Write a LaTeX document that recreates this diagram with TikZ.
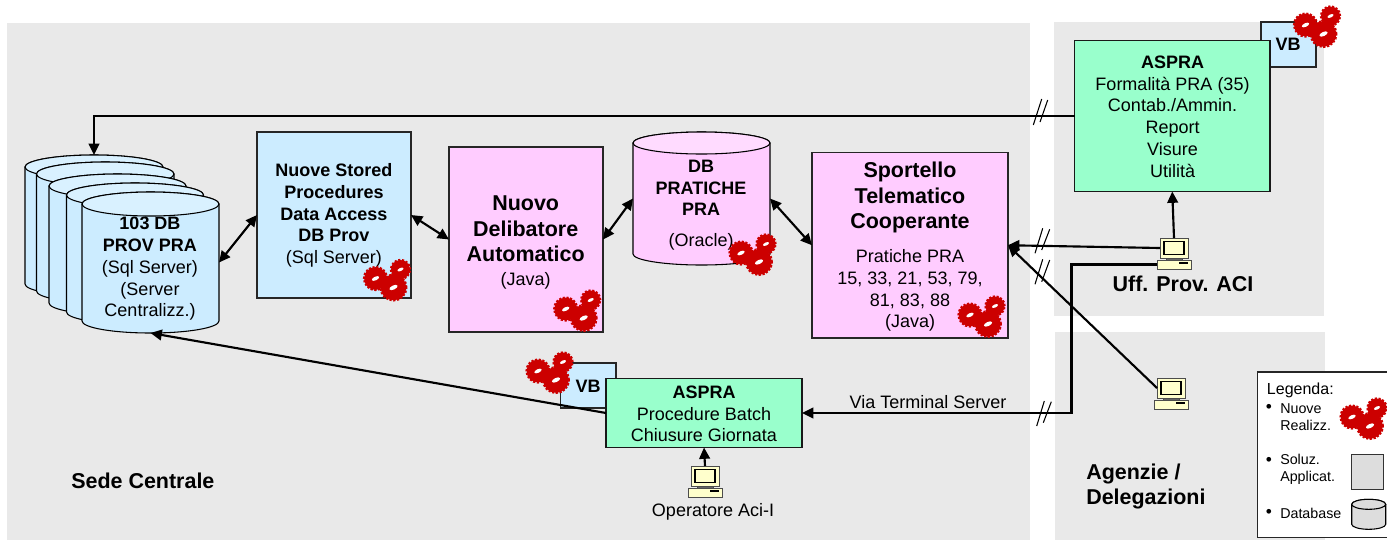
\documentclass[tikz,border=0pt]{standalone}
\usepackage{fontspec}
\setmainfont{Liberation Sans}
\usetikzlibrary{arrows.meta,calc}
\definecolor{panelgray}{HTML}{E9E9E9}
\definecolor{sqlblue}{HTML}{CCECFF}
\definecolor{sqltop}{HTML}{D9F1FF}
\definecolor{apppink}{HTML}{FFCCFF}
\definecolor{pinktop}{HTML}{FFDBFF}
\definecolor{aspragreen}{HTML}{99FFCC}
\definecolor{pcyellow}{HTML}{FFFFCC}
\definecolor{gearred}{HTML}{CC0000}
\definecolor{legendgray}{HTML}{DDDDDD}
\newcommand{\fsA}{\fontsize{13.5}{16.3}\selectfont}
\newcommand{\fsB}{\fontsize{16.1}{19.2}\selectfont\bfseries}
\newcommand{\fsC}{\fontsize{10.7}{13}\selectfont}
% box by its px corners
\newcommand{\pxbox}[6]{%
  \pgfmathsetmacro\myw{((#4)-(#2))*0.75}\pgfmathsetmacro\myh{((#5)-(#3))*0.75}%
  \node[#6,minimum width=\myw pt,minimum height=\myh pt] (#1) at ({((#2)+(#4))/2},{((#3)+(#5))/2}) {};}
% cylinder: name, x1, ytop, x2, ybottom, ry, body, top
\newcommand{\pxcyl}[8]{%
  \pgfmathsetmacro\myrx{(#4-#2)*0.375}\pgfmathsetmacro\myry{#6*0.75}%
  \pgfmathsetmacro\myw{(#4-#2)*0.75}\pgfmathsetmacro\myh{(#5-#3)*0.75}%
  \draw[cylline,fill=#7] (#2,#3+#6) -- (#2,#5-#6) arc[start angle=180,end angle=360,x radius=\myrx pt,y radius=\myry pt] -- (#4,#3+#6) arc[start angle=0,end angle=180,x radius=\myrx pt,y radius=\myry pt] -- cycle;
  \draw[cylline,fill=#8] ({(#2+#4)/2},#3+#6) ellipse[x radius=\myrx pt,y radius=\myry pt];
  \node[inner sep=0pt,outer sep=0pt,minimum width=\myw pt,minimum height=\myh pt] (#1) at ({(#2+#4)/2},{(#3+#5)/2}) {};}
% computer: name, monitor x1, monitor y1
\newcommand{\pxpc}[3]{%
  \draw[pcfine,fill=black!60] (#2+6,#3+19) rectangle (#2+22,#3+23);
  \pxbox{#1m}{#2}{#3}{#2+28}{#3+20}{pcpart}
  \draw[line width=1pt,fill=pcyellow] (#2+4,#3+3.5) rectangle (#2+24,#3+16.5);
  \pxbox{#1b}{#2-3}{#3+22}{#2+31}{#3+31}{pcpart}
  \fill[black] (#2+19,#3+24) rectangle (#2+28,#3+26);}
\tikzset{
  x=0.75pt,y=-0.75pt,
  panel/.style={fill=panelgray,draw=none,inner sep=0pt,outer sep=0pt},
  sqlbox/.style={fill=sqlblue,draw=black!85,line width=0.8pt,inner sep=0pt,outer sep=0pt},
  pinkbox/.style={fill=apppink,draw=black!85,line width=0.8pt,inner sep=0pt,outer sep=0pt},
  greenbox/.style={fill=aspragreen,draw=black!90,line width=0.8pt,inner sep=0pt,outer sep=0pt},
  pcpart/.style={fill=pcyellow,draw=black!70,line width=0.7pt,inner sep=0pt,outer sep=0pt},
  pcfine/.style={draw=black!70,line width=0.5pt},
  cylline/.style={draw=black,line width=0.8pt},
  label/.style={align=center,inner sep=0pt,font=\fsA},
  head/.style={align=center,inner sep=0pt,font=\fsB},
  legtext/.style={align=left,anchor=west,inner sep=0pt,font=\fsC},
  conn/.style={draw=black,line width=1.6pt},
  one/.style={conn,-{Triangle[length=8.5pt,width=8pt]}},
  both/.style={conn,{Triangle[length=8.5pt,width=8pt]}-{Triangle[length=8.5pt,width=8pt]}},
  slash/.style={draw=black,line width=0.8pt},
  gears/.pic={
    \foreach \gx/\gy/\gr in {-11/-1/11.4, 14/-10/9.5, 7/8/12.8}{
      \fill[gearred] (\gx,\gy) circle[radius=\gr*0.75pt];
      \draw[gearred,line width=1.8pt,dash pattern=on 1.6pt off 1.2pt] (\gx,\gy) circle[radius=\gr*0.75pt];
      \fill[white,rotate around={25:(\gx,\gy)}] (\gx,\gy) ellipse[x radius=\gr*0.26pt,y radius=\gr*0.12pt];
    }
  }
}
\begin{document}
\begin{tikzpicture}
\useasboundingbox (0,0) rectangle (1387,540);
\fill[white] (0,0) rectangle (1387,540);
% panels
\pxbox{pmain}{7}{23}{1030}{540}{panel}
\pxbox{pupper}{1054}{22}{1324}{316}{panel}
\pxbox{plower}{1055}{332}{1325}{540}{panel}
% stacked databases
\pxcyl{cyla}{25}{155}{163}{296}{12}{sqlblue}{sqltop}
\pxcyl{cylb}{36.5}{162}{174}{303}{12}{sqlblue}{sqltop}
\pxcyl{cylc}{49}{174}{186}{315}{12}{sqlblue}{sqltop}
\pxcyl{cyld}{66.5}{183}{203.5}{324}{12}{sqlblue}{sqltop}
\pxcyl{cyle}{82}{192}{219}{333}{12}{sqlblue}{sqltop}
\node[label] (cylt) at (150,269) {\textbf{103 DB}\\\textbf{PROV PRA}\\(Sql Server)\\(Server\\Centralizz.)};
% stored procedures
\pxbox{stored}{257}{132}{411}{298}{sqlbox}
\node[label] (storedt) at (334,215.5) {\textbf{Nuove Stored}\\\textbf{Procedures}\\\textbf{Data Access}\\\textbf{DB Prov}\\(Sql Server)};
% delibatore
\pxbox{delib}{449}{147}{603}{332}{pinkbox}
\node[head] (delibt) at (525.7,229) {Nuovo\\Delibatore\\Automatico};
\node[label] (delibj) at (525.7,281) {(Java)};
% db pratiche
\pxcyl{pratiche}{633}{132}{770}{265}{11}{apppink}{pinktop}
\node[label,font=\fsA\bfseries] (pratichet) at (701,188) {DB\\PRATICHE\\PRA};
\node[label] (praticheo) at (701,242) {(Oracle)};
% sportello
\pxbox{sport}{812}{152.5}{1008}{338}{pinkbox}
\node[head] (sportt) at (910,197.5) {Sportello\\Telematico\\Cooperante};
\node[label] (sportb) at (910,290.5) {Pratiche PRA\\15, 33, 21, 53, 79,\\81, 83, 88\\(Java)};
% aspra top
\pxbox{vbtop}{1261}{22}{1316}{67}{sqlbox}
\node[label,font=\fsA\bfseries] (vbtopt) at (1288,44.5) {VB};
\pxbox{aspratop}{1074.5}{40.5}{1270}{191.5}{greenbox}
\node[label] (aspratopt) at (1172.5,116.5) {\textbf{ASPRA}\\Formalità PRA (35)\\Contab./Ammin.\\Report\\Visure\\Utilità};
% aspra bottom
\pxbox{vbbot}{560.5}{363}{616}{408}{sqlbox}
\node[label,font=\fsA\bfseries] (vbbott) at (588,386) {VB};
\pxbox{asprabot}{606}{378.5}{802}{447.5}{greenbox}
\node[label] (asprabott) at (704,414) {\textbf{ASPRA}\\Procedure Batch\\Chiusure Giornata};
% computers
\pxpc{pcu}{1160}{238}
\pxpc{pca}{1157}{378}
\pxpc{pco}{691}{466}
% connectors
\draw[one] (aspratop.west) -| (cyla.north);
\draw[both] (cyle.east) -- (stored.west);
\draw[both] (stored.east) -- (delib.west);
\draw[both] (delib.east) -- (pratiche.west);
\draw[both] (pratiche.east) -- (sport.west);
\draw[one] (pcum.west) -- (sport.east);
\draw[one] (pcam.west) -- (sport.east);
\draw[one] (pcum.north) -- (aspratop.south);
\draw[one] (pcub.west) -| (1071.5,413) -- (asprabot.east);
\draw[one] (asprabot.west) -- (cyle.south);
\draw[one] (pcom.north) -- (asprabot.south);
% break marks
\draw[slash] (1033.3,125) -- (1041.7,99) (1040,122) -- (1047.7,100);
\draw[slash] (1035,253.3) -- (1042.7,228.3) (1041.7,250) -- (1049.7,229.3);
\draw[slash] (1035,284.3) -- (1042.7,259.3) (1041.7,281.7) -- (1049.7,260);
\draw[slash] (1036.7,426) -- (1044.3,401) (1043.3,422.7) -- (1051.3,401.7);
% gears
\pic at (386.5,279.5) {gears};
\pic at (576.7,310) {gears};
\pic at (752,254) {gears};
\pic at (981,316) {gears};
\pic at (1316.5,26) {gears};
\pic at (549,372) {gears};
% free labels
\node[label] (via) at (928,402) {Via Terminal Server};
\node[label] (oper) at (713,512) {Operatore Aci-I};
\node[head] (uff) at (1183,284) {Uff. Prov. ACI};
\node[head,anchor=west] (sede) at (71,481) {Sede Centrale};
\node[head,align=left,anchor=west] (agenz) at (1086,486.5) {Agenzie /\\Delegazioni};
% legend
\fill[white] (1257.5,372) rectangle (1387,537.5);
\draw[draw=black!85,line width=0.9pt] (1387,372) coordinate (legtr) -- (1257.5,372) -- (1257.5,537.5) -- (1387,537.5);
\node[legtext,font=\fontsize{12}{14}\selectfont] (legt) at (1266.7,390) {Legenda:};
\node[legtext,font=\fontsize{13}{14}\selectfont] (leg1b) at (1265.5,408) {•};
\node[legtext] (leg1) at (1280,417) {Nuove\\Realizz.};
\node[legtext,font=\fontsize{13}{14}\selectfont] (leg2b) at (1265.5,461) {•};
\node[legtext] (leg2) at (1280,469.5) {Soluz.\\Applicat.};
\node[legtext,font=\fontsize{13}{14}\selectfont] (leg3b) at (1265.5,513) {•};
\node[legtext] (leg3) at (1280,513) {Database};
\pic at (1363,418) {gears};
\pxbox{legbox}{1351.7}{454.3}{1383.3}{489}{draw=black!80,line width=0.7pt,fill=legendgray,inner sep=0pt,outer sep=0pt}
\pxcyl{legcyl}{1351.7}{499.3}{1385.7}{529.3}{5}{legendgray}{legendgray}
\end{tikzpicture}
\end{document}
